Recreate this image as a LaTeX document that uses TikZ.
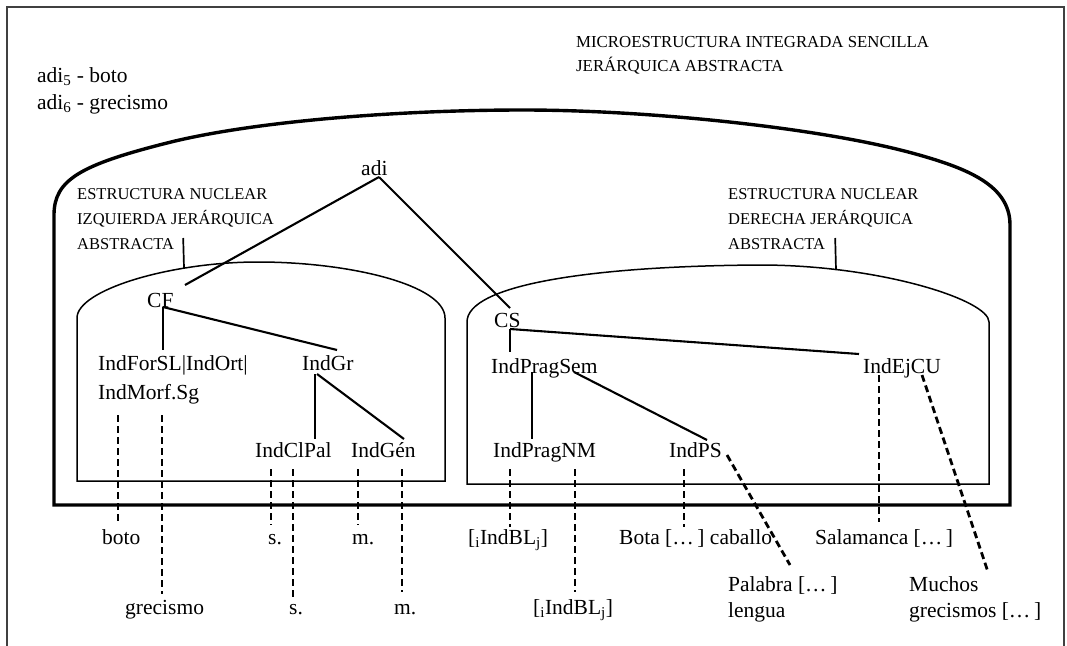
\documentclass[tikz,border=0pt]{standalone}
\usepackage{fontspec}
\setmainfont{Liberation Serif}
\usetikzlibrary{calc}
\begin{document}
\begin{tikzpicture}[x=1pt,y=1pt,
  txt/.style={inner sep=0pt, anchor=base west, text height=15pt, text depth=5pt,
              font=\fontsize{21.5}{26}\selectfont},
  caplab/.style={inner sep=0pt, anchor=base west, font=\fontsize{16.5}{24}\selectfont},
  toplab/.style={inner sep=0pt, anchor=base west, font=\fontsize{16.8}{24}\selectfont},
  frame/.style={line width=1.2pt, draw=black!75},
  outer/.style={line width=3.4pt, line join=miter},
  dome/.style={line width=1.5pt},
  tick/.style={line width=1.7pt},
  tline/.style={line width=2.1pt},
  dline/.style={line width=2.8pt, dash pattern=on 7pt off 4pt}]

\useasboundingbox (0,0) rectangle (1067,-645);

% page frame (open at the bottom)
\draw[frame] (7,-660) -- (7,-7) -- (1064,-7) -- (1064,-660);

% integrated microstructure
\draw[outer] (54,-505) -- (54,-215)
  .. controls (54,-180) and (80,-165) .. (167,-143)
  .. controls (254,-121) and (400,-110) .. (523,-110)
  .. controls (650,-110) and (820,-128) .. (912,-153)
  .. controls (967,-168) and (1010,-185) .. (1010,-225)
  -- (1010,-505) -- cycle;

% left and right nuclear structures
\draw[dome] (77,-481) -- (77,-318)
  .. controls (77,-290) and (170,-262) .. (258,-262)
  .. controls (350,-262) and (445,-285) .. (445,-318)
  -- (445,-481) -- cycle;
\draw[dome] (467,-484) -- (467,-322)
  .. controls (467,-285) and (590,-266) .. (760,-265)
  .. controls (880,-265) and (989,-300) .. (989,-322)
  -- (989,-484) -- cycle;
\coordinate (domeL) at (184,-268);
\coordinate (domeR) at (836,-270);

% titles
\node[toplab] (micro1) at (576,-47) {MICROESTRUCTURA INTEGRADA SENCILLA};
\node[toplab] (micro2) at (576,-71) {JERÁRQUICA ABSTRACTA};
\node[txt] (adiA) at (37,-82) {adi\textsubscript{5} - boto};
\node[txt] (adiB) at (37,-109) {adi\textsubscript{6} - grecismo};

\node[caplab] (labL1) at (77,-199) {ESTRUCTURA NUCLEAR};
\node[caplab] (labL2) at (77,-224) {IZQUIERDA JERÁRQUICA};
\node[caplab] (labL3) at (77,-249) {ABSTRACTA};
\node[caplab] (labR1) at (728,-199) {ESTRUCTURA NUCLEAR};
\node[caplab] (labR2) at (728,-224) {DERECHA JERÁRQUICA};
\node[caplab] (labR3) at (728,-249) {ABSTRACTA};

\draw[tick] ($(labL3.base east)+(9,11)$) -- (domeL);
\draw[tick] ($(labR3.base east)+(10,11)$) -- (domeR);

% tree nodes
\node[txt] (adi) at (361,-175) {adi};
\node[txt] (CF) at (147,-307) {CF};
\node[txt] (CS) at (494,-327) {CS};
\node[txt] (forsl) at (98,-370) {IndForSL|IndOrt|};
\node[txt] (morf) at (98,-399) {IndMorf.Sg};
\node[txt] (gr) at (302,-370) {IndGr};
\node[txt] (clpal) at (255,-457) {IndClPal};
\node[txt] (gen) at (351,-457) {IndGén};
\node[txt] (pragsem) at (491,-373) {IndPragSem};
\node[txt] (ejcu) at (863,-373) {IndEjCU};
\node[txt] (pragnm) at (493,-457) {IndPragNM};
\node[txt] (ps) at (669,-457) {IndPS};

% examples
\node[txt] (boto) at (102,-544) {boto};
\node[txt] (grec) at (125,-614) {grecismo};
\node[txt] (sA) at (268,-544) {s.};
\node[txt] (sB) at (289,-614) {s.};
\node[txt] (mA) at (352,-544) {m.};
\node[txt] (mB) at (394,-614) {m.};
\node[txt] (blA) at (468,-544) {[\textsubscript{i}IndBL\textsubscript{j}]};
\node[txt] (blB) at (533,-614) {[\textsubscript{i}IndBL\textsubscript{j}]};
\node[txt] (bota) at (619,-544) {Bota […\,] caballo};
\node[txt] (sal) at (815,-544) {Salamanca […\,]};
\node[txt] (pal) at (728,-591) {Palabra […\,]};
\node[txt] (leng) at (728,-617) {lengua};
\node[txt] (much) at (909,-591) {Muchos};
\node[txt] (grecs) at (909,-617) {grecismos […\,]};

% hierarchy
\draw[tline] ($(adi.base west)+(18,-2)$) -- ($(CF.base west)+(38,22)$);
\draw[tline] ($(adi.base west)+(18,-2)$) -- ($(CS.base west)+(16,19)$);
\draw[tline] ($(CF.base west)+(16,0)$) -- ($(forsl.base west)+(65,20)$);
\draw[tline] ($(CF.base west)+(16,0)$) -- ($(gr.base west)+(35,20)$);
\draw[tline] ($(gr.base west)+(13,-4)$) -- ($(clpal.base west)+(60,18)$);
\draw[tline] ($(gr.base west)+(15,-4)$) -- ($(gen.base west)+(53,18)$);
\draw[tline] ($(CS.base west)+(16,-2)$) -- ($(pragsem.base west)+(19,21)$);
\draw[tline] ($(CS.base west)+(16,-2)$) -- ($(ejcu.base west)+(-4,19)$);
\draw[tline] ($(pragsem.base west)+(41,1)$) -- ($(pragnm.base west)+(39,18)$);
\draw[tline] ($(pragsem.base west)+(83,1)$) -- ($(ps.base west)+(38,17)$);

% realisations
\draw[dline] ($(morf.base west)+(20,-16)$) -- ($(boto.base west)+(16,22)$);
\draw[dline] ($(morf.base west)+(64,-16)$) -- ($(grec.base west)+(37,20)$);
\draw[dline] ($(clpal.base west)+(16,-12)$) -- ($(sA.base west)+(3,19)$);
\draw[dline] ($(clpal.base west)+(38,-12)$) -- ($(sB.base west)+(4,15)$);
\draw[dline] ($(gen.base west)+(7,-12)$) -- ($(mA.base west)+(6,19)$);
\draw[dline] ($(gen.base west)+(51,-12)$) -- ($(mB.base west)+(8,22)$);
\draw[dline] ($(pragnm.base west)+(17,-12)$) -- ($(blA.base west)+(42,17)$);
\draw[dline] ($(pragnm.base west)+(82,-12)$) -- ($(blB.base west)+(42,22)$);
\draw[dline] ($(ps.base west)+(15,-12)$) -- ($(bota.base west)+(65,17)$);
\draw[dline] ($(ps.base west)+(58,2)$) -- ($(pal.base west)+(62,26)$);
\draw[dline] ($(ejcu.base west)+(16,-2)$) -- ($(sal.base west)+(64,22)$);
\draw[dline] ($(ejcu.base west)+(59,-2)$) -- ($(much.base west)+(79,19)$);

\end{tikzpicture}
\end{document}
